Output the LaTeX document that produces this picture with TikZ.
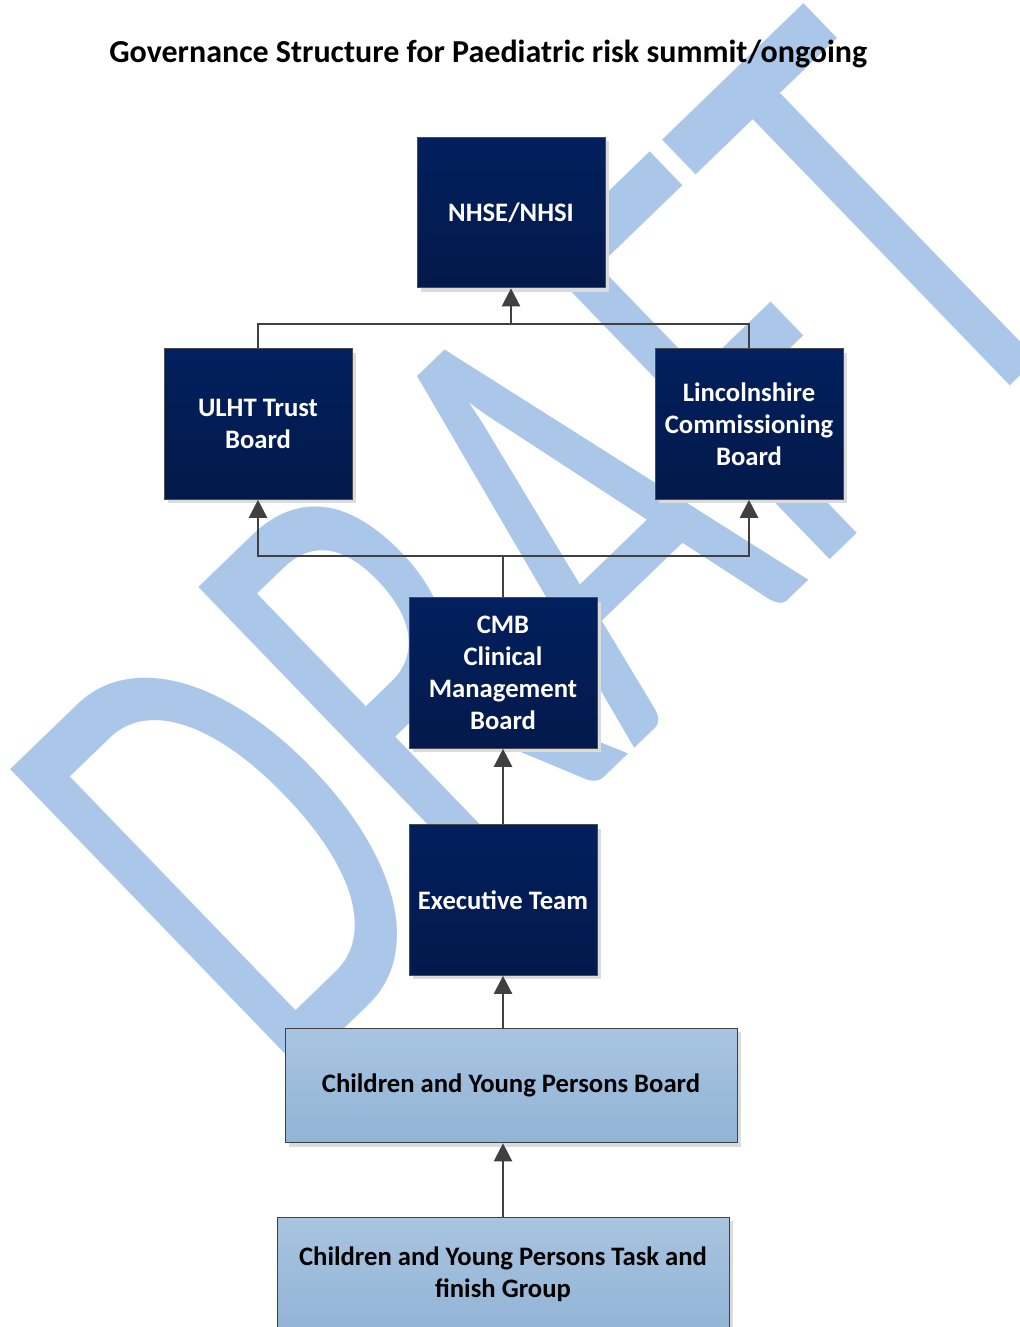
\documentclass[tikz,border=0pt]{standalone}
\usepackage{fontspec}
\setmainfont{Carlito}
\usetikzlibrary{arrows.meta,shadows}
\definecolor{navyT}{RGB}{2,32,94}
\definecolor{navyB}{RGB}{3,25,74}
\definecolor{lightT}{RGB}{168,196,224}
\definecolor{lightB}{RGB}{146,180,214}
\definecolor{wmblue}{RGB}{170,198,232}
\definecolor{lineg}{RGB}{64,64,64}
\begin{document}
\begin{tikzpicture}[x=0.75pt,y=-0.75pt,
  shadowed/.style={drop shadow={shadow xshift=3pt,shadow yshift=-3pt,fill=black!14,opacity=1}},
  darkbox/.style={shadowed, draw=gray!60!black, line width=0.75pt, top color=navyT, bottom color=navyB,
    text=white, font=\fontsize{20}{24}\selectfont\bfseries, align=center, inner sep=0pt,
    minimum width=141pt, minimum height=113pt},
  lightbox/.style={shadowed, draw=gray!50!black, line width=0.75pt, top color=lightT, bottom color=lightB,
    text=black, font=\fontsize{20}{24}\selectfont\bfseries, align=center, inner sep=0pt,
    minimum width=339pt, minimum height=86pt},
  conn/.style={draw=lineg, line width=1.8pt},
  arr/.style={conn, -{Triangle[width=13.5pt,length=13.5pt]}}]
\useasboundingbox[fill=white] (0,0) rectangle (1020,1327);
% watermark
\node[rotate=44, anchor=base west, inner sep=0pt, text=wmblue] (wm) at (280,1091)
  {\scalebox{0.65}[1]{\fontsize{489}{489}\selectfont DRAFT}};
% title
\node[anchor=base west, inner sep=0pt, font=\fontsize{24}{28}\selectfont\bfseries] (title) at (109,63)
  {Governance Structure for Paediatric risk summit/ongoing};
% boxes
\node[darkbox] (nhse) at (511,212.5) {NHSE/NHSI};
\node[darkbox] (ulht) at (258,424) {ULHT Trust\\Board};
\node[darkbox] (lincs) at (749,424) {Lincolnshire\\Commissioning\\Board};
\node[darkbox] (cmb) at (503,673) {CMB\\Clinical\\Management\\Board};
\node[darkbox] (exec) at (503,900) {Executive Team};
\node[lightbox] (cypb) at (511,1085.5) {Children and Young Persons Board};
\node[lightbox, minimum height=85.5pt] (task) at (503,1274) {Children and Young Persons Task and\\finish Group};
% connectors
\coordinate (jtop) at (511,324);
\coordinate (jmid) at (503,556);
\draw[conn] (ulht.north) |- (jtop) -| (lincs.north);
\draw[arr] (jtop) -- (nhse.south);
\draw[conn] (cmb.north) -- (jmid);
\draw[arr] (jmid) -| (ulht.south);
\draw[arr] (jmid) -| (lincs.south);
\draw[arr] (exec.north) -- (cmb.south);
\draw[arr] (cypb.north -| exec.south) -- (exec.south);
\draw[arr] (task.north) -- (task.north |- cypb.south);
\end{tikzpicture}
\end{document}
